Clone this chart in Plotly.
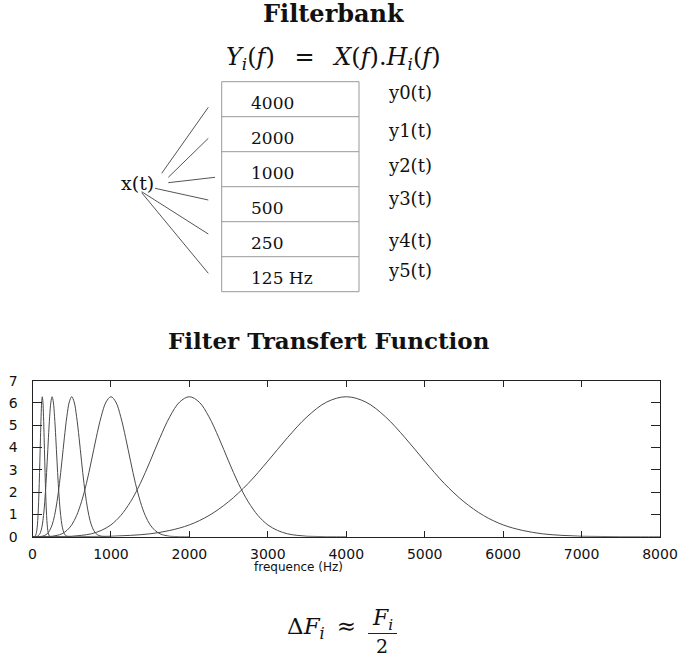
import plotly.graph_objects as go

W, H = 685, 657

# ---------------- data ----------------
centers_hz = [125, 250, 500, 1000, 2000, 4000]
# relative frequency (f / centre) at which the filter gain was read
profile_ratio = [0.0, 0.0625, 0.125, 0.1875, 0.25, 0.3125, 0.375, 0.4375, 0.5,
                 0.5625, 0.625, 0.6875, 0.75, 0.8125, 0.875, 0.9375, 1.0,
                 1.0625, 1.125, 1.1875, 1.25, 1.3125, 1.375, 1.4375, 1.5,
                 1.5625, 1.625, 1.6875, 1.75, 1.8125, 1.875, 1.9375, 2.0]
# filter gain (same shape for every filter)
profile_gain = [0.00, 0.00, 0.00, 0.01, 0.02, 0.06, 0.13, 0.28, 0.53,
                0.95, 1.57, 2.39, 3.39, 4.44, 5.38, 6.04, 6.28,
                6.04, 5.38, 4.44, 3.39, 2.39, 1.57, 0.95, 0.53,
                0.28, 0.13, 0.06, 0.02, 0.01, 0.00, 0.00, 0.00]
x_ticks = [0, 1000, 2000, 3000, 4000, 5000, 6000, 7000, 8000]
y_ticks = [0, 1, 2, 3, 4, 5, 6, 7]
band_labels = ["4000", "2000", "1000", "500", "250", "125 Hz"]
out_labels = ["y0(t)", "y1(t)", "y2(t)", "y3(t)", "y4(t)", "y5(t)"]


def px(x):
    return x / W


def py(y):
    return 1 - y / H


fig = go.Figure()
for c in centers_hz:
    fig.add_trace(go.Scatter(
        x=[r * c for r in profile_ratio], y=profile_gain, mode="lines",
        line=dict(color="#4a4a4a", width=1, shape="spline", smoothing=1.0),
        showlegend=False, hoverinfo="skip"))

ax_font = dict(family="DejaVu Sans", size=14, color="#111111")
fig.update_xaxes(domain=[px(32.5), px(660)], range=[0, 8000], tickvals=x_ticks,
                 ticks="inside", ticklen=6, tickcolor="#222", tickwidth=1,
                 showline=True, linecolor="#222", linewidth=1, mirror="ticks",
                 showgrid=False, zeroline=False, tickfont=ax_font,
                 ticklabelstandoff=4, automargin=False)
fig.update_yaxes(domain=[py(536.7), py(380.7)], range=[0, 7], tickvals=y_ticks,
                 ticks="inside", ticklen=9, tickcolor="#222", tickwidth=1,
                 showline=True, linecolor="#222", linewidth=1, mirror="ticks",
                 showgrid=False, zeroline=False, tickfont=ax_font,
                 ticklabelstandoff=11, automargin=False)

serif = "DejaVu Serif"
ann = []
shapes = []


def text(x, y, s, size, family=serif, xanchor="center", color="#111111"):
    ann.append(dict(x=px(x), y=py(y), xref="paper", yref="paper", text=s,
                    showarrow=False, xanchor=xanchor, yanchor="middle",
                    font=dict(family=family, size=size, color=color)))


def line(x0, y0, x1, y1, color="#666666", width=1):
    shapes.append(dict(type="line", xref="paper", yref="paper",
                       x0=px(x0), y0=py(y0), x1=px(x1), y1=py(y1),
                       line=dict(color=color, width=width)))


# titles
text(334, 13, "<b>Filterbank</b>", 24)
text(329, 340, "<b>Filter Transfert Function</b>", 23)
text(333, 58, "<i>Y</i><sub><i>i</i></sub>(<i>f</i>) \u2002=\u2002 <i>X</i>(<i>f</i>).<i>H</i><sub><i>i</i></sub>(<i>f</i>)", 24)

# filter-bank diagram
box_l, box_r, box_t, row_h = 221.7, 359.0, 81.7, 35.0
shapes.append(dict(type="rect", xref="paper", yref="paper",
                   x0=px(box_l), x1=px(box_r), y0=py(box_t + 6 * row_h), y1=py(box_t),
                   line=dict(color="#999999", width=1)))
for k in range(1, 6):
    line(box_l, box_t + k * row_h, box_r, box_t + k * row_h, color="#999999")
for k, lab in enumerate(band_labels):
    text(249, box_t + k * row_h + 21, lab, 17, xanchor="left")
out_y = [92, 130, 165, 199, 240, 271]
for lab, yy in zip(out_labels, out_y):
    text(386, yy, lab, 18, xanchor="left")
text(137.5, 183, "x(t)", 19)
for (x0, y0, x1, y1) in [(161.7, 173.3, 208.3, 107.3), (168.3, 177.3, 208.3, 138.3),
                         (168.3, 182.7, 215.0, 177.3), (155.0, 188.3, 208.3, 200.0),
                         (141.7, 191.7, 208.3, 234.0), (141.7, 192.7, 208.3, 273.3)]:
    line(x0, y0, x1, y1, color="#555555")

# x-axis title
text(298, 567, "frequence (Hz)", 12, family="DejaVu Sans")

# bandwidth formula
ann.append(dict(x=px(358), y=py(628), xref="paper", yref="paper",
                text="Δ<i>F</i><sub><i>i</i></sub> \u2009≈", showarrow=False,
                xanchor="right", yanchor="middle",
                font=dict(family=serif, size=23, color="#111111")))
text(382, 619, "<i>F</i><sub><i>i</i></sub>", 22)
line(368, 633.5, 397, 633.5, color="#222222", width=1)
text(382, 646, "2", 19)

fig.update_layout(width=W, height=H, margin=dict(l=0, r=0, t=0, b=0),
                  paper_bgcolor="white", plot_bgcolor="white",
                  annotations=ann, shapes=shapes)
fig.write_html("out.html")
